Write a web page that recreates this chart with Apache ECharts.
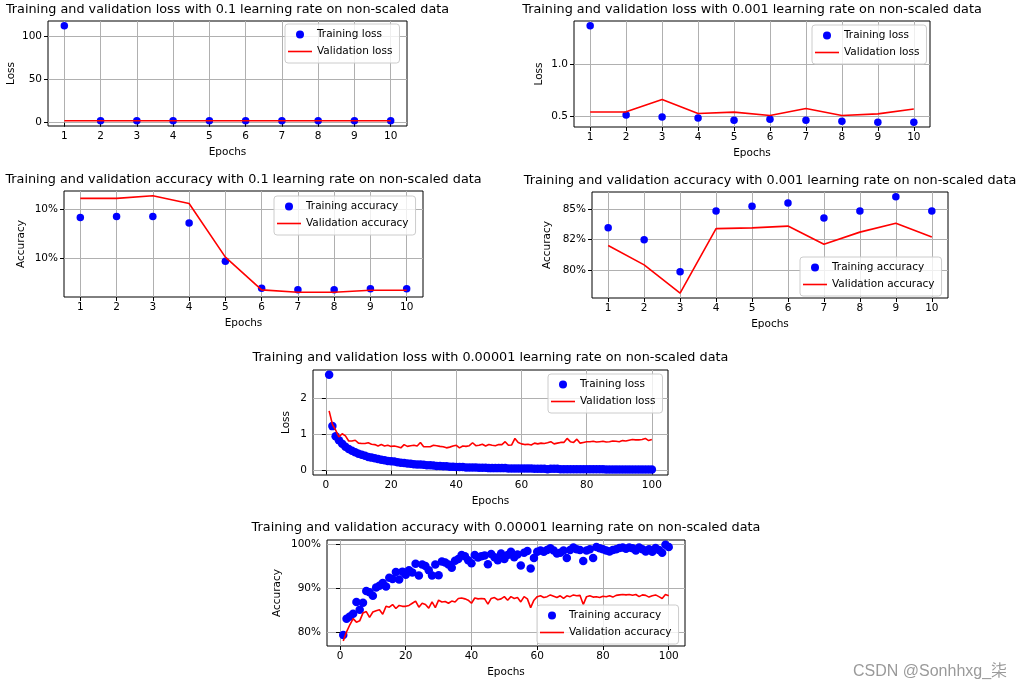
<!DOCTYPE html>
<html>
<head>
<meta charset="utf-8">
<script src="https://cdn.jsdelivr.net/npm/echarts@6/dist/echarts.min.js"></script>
<style>
html,body{margin:0;padding:0;background:#fff;}
#chart{width:1019px;height:689px;}
</style>
</head>
<body>
<div id="chart"></div>
<script>
// ---------------- DATA ----------------
const epochs10 = [1, 2, 3, 4, 5, 6, 7, 8, 9, 10];
const epochs100 = [1,2,3,4,5,6,7,8,9,10,11,12,13,14,15,16,17,18,19,20,21,22,23,24,25,26,27,28,29,30,31,32,33,34,35,36,37,38,39,40,41,42,43,44,45,46,47,48,49,50,51,52,53,54,55,56,57,58,59,60,61,62,63,64,65,66,67,68,69,70,71,72,73,74,75,76,77,78,79,80,81,82,83,84,85,86,87,88,89,90,91,92,93,94,95,96,97,98,99,100];

// lr = 0.1
const trainLoss01 = [112.3, 2.31, 2.31, 2.31, 2.31, 2.31, 2.31, 2.31, 2.31, 2.31];
const valLoss01   = [2.30, 2.30, 2.30, 2.30, 2.30, 2.30, 2.30, 2.30, 2.30, 2.30];
const trainAcc01  = [0.10207, 0.10212, 0.10212, 0.10179, 0.09986, 0.09850, 0.09843, 0.09843, 0.09848, 0.09848];
const valAcc01    = [0.10303, 0.10303, 0.10316, 0.10277, 0.10007, 0.09842, 0.09830, 0.09830, 0.09840, 0.09840];

// lr = 0.001
const trainLoss001 = [1.373, 0.510, 0.490, 0.480, 0.458, 0.467, 0.458, 0.448, 0.440, 0.440];
const valLoss001   = [0.538, 0.540, 0.660, 0.524, 0.537, 0.505, 0.572, 0.504, 0.520, 0.567];
const trainAcc001  = [0.835, 0.825, 0.7986, 0.8488, 0.8528, 0.8553, 0.843, 0.8488, 0.8605, 0.8488];
const valAcc001    = [0.8203, 0.8042, 0.7808, 0.8342, 0.8348, 0.8363, 0.8213, 0.8313, 0.8386, 0.8272];

// lr = 0.00001
const trainLoss1e5 = [2.65,1.23,0.95,0.84,0.74,0.66,0.60,0.55,0.51,0.47,
  0.44,0.41,0.38,0.36,0.34,0.32,0.30,0.29,0.27,0.26,
  0.25,0.23,0.22,0.21,0.20,0.19,0.18,0.17,0.17,0.16,
  0.15,0.15,0.14,0.13,0.13,0.12,0.12,0.11,0.11,0.10,
  0.10,0.10,0.09,0.09,0.09,0.09,0.08,0.08,0.08,0.07,
  0.07,0.07,0.07,0.07,0.07,0.06,0.06,0.06,0.06,0.06,
  0.06,0.06,0.06,0.05,0.05,0.05,0.05,0.04,0.05,0.05,
  0.05,0.04,0.04,0.04,0.04,0.04,0.04,0.04,0.04,0.04,
  0.04,0.04,0.04,0.04,0.04,0.035,0.035,0.035,0.035,0.035,
  0.035,0.035,0.03,0.03,0.03,0.03,0.03,0.03,0.03,0.03];
const valLoss1e5 = [1.65,1.28,1.12,0.93,1.02,0.96,0.82,0.82,0.84,0.76,
  0.75,0.75,0.77,0.73,0.72,0.68,0.72,0.68,0.70,0.67,
  0.68,0.66,0.63,0.72,0.67,0.69,0.70,0.68,0.78,0.66,
  0.66,0.66,0.70,0.69,0.67,0.66,0.63,0.65,0.68,0.70,
  0.63,0.68,0.67,0.69,0.77,0.69,0.70,0.73,0.68,0.72,
  0.70,0.69,0.72,0.72,0.80,0.70,0.71,0.89,0.78,0.74,
  0.72,0.73,0.71,0.76,0.74,0.76,0.75,0.77,0.80,0.74,
  0.76,0.78,0.78,0.89,0.80,0.78,0.87,0.76,0.78,0.80,
  0.80,0.81,0.79,0.80,0.81,0.79,0.80,0.82,0.81,0.80,
  0.83,0.82,0.84,0.86,0.85,0.85,0.86,0.89,0.83,0.86];
const trainAcc1e5 = [0.793,0.830,0.835,0.841,0.868,0.850,0.866,0.893,0.890,0.882,
  0.901,0.905,0.911,0.903,0.923,0.920,0.936,0.919,0.937,0.930,
  0.940,0.935,0.955,0.928,0.953,0.950,0.940,0.928,0.953,0.929,
  0.960,0.958,0.953,0.946,0.962,0.966,0.975,0.972,0.963,0.956,
  0.975,0.969,0.972,0.974,0.954,0.977,0.970,0.963,0.978,0.966,
  0.975,0.982,0.970,0.976,0.951,0.980,0.984,0.944,0.968,0.982,
  0.985,0.982,0.986,0.990,0.985,0.978,0.980,0.985,0.968,0.986,
  0.992,0.988,0.986,0.961,0.985,0.988,0.968,0.993,0.990,0.988,
  0.985,0.983,0.986,0.988,0.991,0.992,0.989,0.992,0.990,0.985,
  0.992,0.988,0.983,0.988,0.982,0.991,0.986,0.980,0.998,0.993];
const valAcc1e5 = [0.779,0.800,0.816,0.830,0.822,0.825,0.843,0.846,0.833,0.845,
  0.848,0.850,0.840,0.858,0.856,0.862,0.853,0.860,0.858,0.858,
  0.860,0.865,0.870,0.856,0.865,0.862,0.854,0.868,0.855,0.872,
  0.868,0.869,0.865,0.870,0.868,0.876,0.877,0.875,0.872,0.865,
  0.877,0.875,0.876,0.875,0.863,0.876,0.878,0.873,0.875,0.880,
  0.872,0.880,0.876,0.878,0.868,0.880,0.875,0.855,0.872,0.880,
  0.882,0.878,0.880,0.884,0.881,0.878,0.882,0.876,0.882,0.880,
  0.884,0.882,0.883,0.862,0.880,0.882,0.879,0.880,0.878,0.881,
  0.880,0.882,0.879,0.883,0.884,0.885,0.884,0.885,0.883,0.885,
  0.880,0.884,0.883,0.879,0.882,0.884,0.880,0.876,0.885,0.882];

// tick values & labels
const xTicks10 = [1, 2, 3, 4, 5, 6, 7, 8, 9, 10];
const xTicks100 = [0, 20, 40, 60, 80, 100];
const yTicksLoss01 = [0, 50, 100];            const yLabelsLoss01 = ['0', '50', '100'];
const yTicksLoss001 = [0.5, 1.0];             const yLabelsLoss001 = ['0.5', '1.0'];
const yTicksAcc01 = [0.1, 0.1025];            const yLabelsAcc01 = ['10%', '10%'];
const yTicksAcc001 = [0.8, 0.825, 0.85];      const yLabelsAcc001 = ['80%', '82%', '85%'];
const yTicksLoss1e5 = [0, 1, 2];              const yLabelsLoss1e5 = ['0', '1', '2'];
const yTicksAcc1e5 = [0.8, 0.9, 1.0];         const yLabelsAcc1e5 = ['80%', '90%', '100%'];

const titles = [
  'Training and validation loss with 0.1 learning rate on non-scaled data',
  'Training and validation loss with 0.001 learning rate on non-scaled data',
  'Training and validation accuracy with 0.1 learning rate on non-scaled data',
  'Training and validation accuracy with 0.001 learning rate on non-scaled data',
  'Training and validation loss with 0.00001 learning rate on non-scaled data',
  'Training and validation accuracy with 0.00001 learning rate on non-scaled data'
];

// ---------------- BUILD ----------------
const FONT = 'DejaVu Sans';
const pairs = (xs, ys) => xs.map((x, i) => [x, ys[i]]);
const lookup = (vals, labels) => (v) => {
  let best = 0, bd = Infinity;
  vals.forEach((t, i) => { const d = Math.abs(t - v); if (d < bd) { bd = d; best = i; } });
  return labels[best];
};
const LINE_ICON = 'path://M0,0 M0,3.2 L24,3.2 L24,4.8 L0,4.8 Z M24,8';

const panels = [
  {grid:{left:48, top:21, width:359, height:105}, titleY:10, msize:7.5,
   x:{min:0.55, max:10.45, ticks:xTicks10}, y:{min:-3.8, max:117.8, ticks:yTicksLoss01, labels:yLabelsLoss01, name:'Loss', gap:31},
   train:['Training loss', epochs10, trainLoss01], val:['Validation loss', epochs10, valLoss01],
   legend:{left:285, top:24}},
  {grid:{left:574, top:21, width:356, height:106}, titleY:10, msize:7.5,
   x:{min:0.55, max:10.45, ticks:xTicks10}, y:{min:0.393, max:1.42, ticks:yTicksLoss001, labels:yLabelsLoss001, name:'Loss', gap:29},
   train:['Training loss', epochs10, trainLoss001], val:['Validation loss', epochs10, valLoss001],
   legend:{left:812, top:25}},
  {grid:{left:64, top:191, width:359, height:106}, titleY:180, msize:7.5,
   x:{min:0.55, max:10.45, ticks:xTicks10}, y:{min:0.09806, max:0.1034, ticks:yTicksAcc01, labels:yLabelsAcc01, name:'Accuracy', gap:37},
   train:['Training accuracy', epochs10, trainAcc01], val:['Validation accuracy', epochs10, valAcc01],
   legend:{left:274, top:196}},
  {grid:{left:592, top:192, width:356, height:106}, titleY:181, msize:7.5,
   x:{min:0.55, max:10.45, ticks:xTicks10}, y:{min:0.7768, max:0.8645, ticks:yTicksAcc001, labels:yLabelsAcc001, name:'Accuracy', gap:39},
   train:['Training accuracy', epochs10, trainAcc001], val:['Validation accuracy', epochs10, valAcc001],
   legend:{left:800, top:257}},
  {grid:{left:313, top:370, width:355, height:105}, titleY:358, msize:8.5,
   x:{min:-3.95, max:104.95, ticks:xTicks100}, y:{min:-0.12, max:2.78, ticks:yTicksLoss1e5, labels:yLabelsLoss1e5, name:'Loss', gap:21},
   train:['Training loss', epochs100, trainLoss1e5], val:['Validation loss', epochs100, valLoss1e5],
   legend:{left:548, top:374}},
  {grid:{left:327, top:540, width:358, height:106}, titleY:528, msize:8.5,
   x:{min:-3.95, max:104.95, ticks:xTicks100}, y:{min:0.7677, max:1.009, ticks:yTicksAcc1e5, labels:yLabelsAcc1e5, name:'Accuracy', gap:44},
   train:['Training accuracy', epochs100, trainAcc1e5], val:['Validation accuracy', epochs100, valAcc1e5],
   legend:{left:537, top:605}}
];

const grid = [], xAxis = [], yAxis = [], series = [], legend = [], graphic = [];
const txt = {fontFamily: FONT, fontSize: 10.5, color: '#000'};
panels.forEach((p, i) => {
  grid.push(Object.assign({show:true, borderColor:'#000', borderWidth:1, backgroundColor:'rgba(0,0,0,0)', containLabel:false}, p.grid));
  xAxis.push({
    type:'value', gridIndex:i, min:p.x.min, max:p.x.max,
    axisLine:{show:false},
    axisTick:{show:true, length:4, lineStyle:{color:'#000', width:1}, customValues:p.x.ticks},
    axisLabel:Object.assign({customValues:p.x.ticks, margin:5, formatter:(v)=>String(Math.round(v))}, txt),
    splitLine:{show:true, lineStyle:{color:'#b0b0b0', width:1}},
    name:'Epochs', nameLocation:'middle', nameGap:21, nameTextStyle:Object.assign({}, txt)
  });
  yAxis.push({
    type:'value', gridIndex:i, min:p.y.min, max:p.y.max,
    axisLine:{show:false},
    axisTick:{show:true, length:4, lineStyle:{color:'#000', width:1}, customValues:p.y.ticks},
    axisLabel:Object.assign({customValues:p.y.ticks, margin:6, formatter:lookup(p.y.ticks, p.y.labels)}, txt),
    splitLine:{show:true, lineStyle:{color:'#b0b0b0', width:1}},
    name:p.y.name, nameLocation:'middle', nameRotate:90, nameGap:p.y.gap, nameTextStyle:Object.assign({}, txt)
  });
  series.push({
    type:'scatter', name:p.train[0], xAxisIndex:i, yAxisIndex:i,
    data:pairs(p.train[1], p.train[2]), symbol:'circle', symbolSize:p.msize,
    itemStyle:{color:'#0000ff', opacity:1}, silent:true, animation:false
  });
  series.push({
    type:'line', name:p.val[0], xAxisIndex:i, yAxisIndex:i,
    data:pairs(p.val[1], p.val[2]), symbol:'none', showSymbol:false,
    lineStyle:{color:'#ff0000', width:1.6}, itemStyle:{color:'#ff0000'}, silent:true, animation:false
  });
  legend.push({
    left:p.legend.left, top:p.legend.top, orient:'vertical',
    data:[{name:p.train[0], icon:'circle'}, {name:p.val[0], icon:LINE_ICON}],
    itemWidth:24, itemHeight:8, itemGap:6,
    padding:[5, 7, 6, 3],
    backgroundColor:'rgba(255,255,255,0.8)', borderColor:'#cccccc', borderWidth:1, borderRadius:3,
    textStyle:Object.assign({}, txt), selectedMode:false
  });
  graphic.push({
    type:'text', x:p.grid.left + p.grid.width/2, y:p.titleY,
    style:{text:titles[i], fill:'#000', font:'12.8px "DejaVu Sans"', textAlign:'center', textVerticalAlign:'middle'}
  });
});
graphic.push({
  type:'text', x:853, y:672,
  style:{text:'CSDN @Sonhhxg_柒', fill:'#9a9a9a', font:'16px "Liberation Sans", "Noto Sans CJK SC", sans-serif', textAlign:'left', textVerticalAlign:'middle'}
});

const chart = echarts.init(document.getElementById('chart'), null, {renderer:'canvas'});
chart.setOption({
  backgroundColor:'#ffffff',
  animation:false,
  textStyle:{fontFamily:FONT},
  grid, xAxis, yAxis, series, legend, graphic
});
</script>
</body>
</html>
